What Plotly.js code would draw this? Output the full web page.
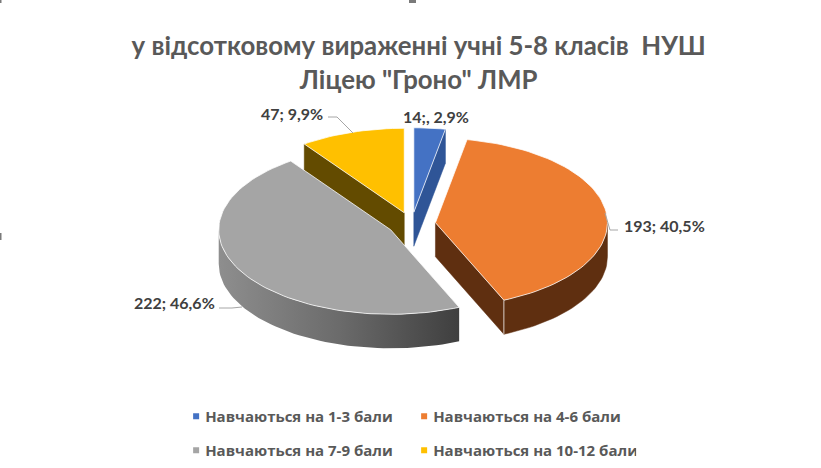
<!DOCTYPE html>
<html><head><meta charset="utf-8">
<script src="https://cdn.plot.ly/plotly-3.0.1.min.js"></script>
<style>html,body{margin:0;padding:0;background:#fff}#chart{width:821px;height:468px}</style>
</head><body><div id="chart"></div>
<script>
const categories = ["Навчаються на 1-3 бали","Навчаються на 4-6 бали","Навчаються на 7-9 бали","Навчаються на 10-12 бали"];
const studentCounts = [14,193,222,47];
const dataLabels = ["14;, 2,9%","193; 40,5%","222; 46,6%","47; 9,9%"];
const topColors = ["#4472C4","#ED7D31","#A5A5A5","#FFC000"];
const sideColors = ["#2F5597","#5F2F10","#6e6e6e","#634B00"];
const labelPos = [[435.5,116],[664,225],[174,302],[292,113]];
const leaders = [[],[[605,213],[610,230],[618,230]],[[242,307],[232,308],[219,308]],[[353,133],[337,117],[328,117]]];
const cropMarks = [[0,233,1.5,240],[409,0,416,3],[0,0,1.5,3]];

const FONT = "Lato, 'Open Sans', sans-serif";
const LEGEND_FONT = "'Open Sans', Lato, sans-serif";
const cx=411.6, cy=224, rx=172, ry=84.5, depth=34, explode=24;
const total = studentCounts.reduce((a,b)=>a+b,0);
const rad = d=>d*Math.PI/180;
const pt = (c,d)=>[c[0]+rx*Math.sin(rad(d)), c[1]-ry*Math.cos(rad(d))];
function arc(c,a,b){const r=[];const n=Math.max(2,Math.ceil(Math.abs(b-a)/2));for(let i=0;i<=n;i++)r.push(pt(c,a+(b-a)*i/n));return r;}
function poly(p,o){return Object.assign({x:p.map(q=>q[0]),y:p.map(q=>q[1]),mode:'lines',fill:'toself',showlegend:false,hoverinfo:'skip'},o);}
let start=0;
const slices = studentCounts.map(v=>{
  const sweep=v/total*360, a=start, b=start+sweep; start=b;
  const m=(a+b)/2;
  const c=[cx+explode*Math.sin(rad(m)), cy-explode*Math.cos(rad(m))*ry/rx];
  return {a,b,c};
});
const down=p=>[p[0],p[1]+depth];
const edge={width:1,color:'rgba(255,255,255,0.75)'};
function cutFace(s,ang,col){const e=pt(s.c,ang);return poly([s.c,e,down(e),down(s.c),s.c],{fillcolor:col,line:{width:0.5,color:col}});}
function topFace(s,i){const p=[s.c].concat(arc(s.c,s.a,s.b));p.push(s.c);return poly(p,{fillcolor:topColors[i],line:edge});}
function rim(s,a,b,o){const t=arc(s.c,a,b);const p=t.concat(t.slice().reverse().map(down));p.push(t[0]);return poly(p,o);}
const [sB,sO,sG,sY]=slices;
const traces=[
  cutFace(sY,sY.a,sideColors[3]),
  cutFace(sB,sB.b,sideColors[0]),
  rim(sG,sG.a,270,{fillcolor:'#666',line:{width:0},fillgradient:{type:'horizontal',colorscale:[[0,'#8e8e8e'],[0.5,'#6b6b6b'],[1,'#3f3f3f']]}}),
  topFace(sG,2),
  topFace(sY,3),
  topFace(sB,0),
  cutFace(sO,sO.b,sideColors[1]),
  rim(sO,90,sO.b,{fillcolor:sideColors[1],line:{width:0.5,color:sideColors[1]}}),
  topFace(sO,1)
];
const oe=pt(sO.c,sO.b);
traces.push({x:[oe[0],oe[0]],y:[oe[1],oe[1]+depth],mode:'lines',line:edge,showlegend:false,hoverinfo:'skip'});
leaders.forEach(l=>{if(l.length)traces.push({x:l.map(q=>q[0]),y:l.map(q=>q[1]),mode:'lines',line:{width:1,color:'#a6a6a6'},showlegend:false,hoverinfo:'skip'});});
categories.forEach((n,i)=>traces.push({x:[null],y:[null],name:n,mode:'markers',type:'scatter',
  marker:{symbol:'square',size:6,color:topColors[i]},legend:i<2?'legend':'legend2',hoverinfo:'skip'}));

const leg=y=>({orientation:'h',x:0.2194,xanchor:'left',y:y,yanchor:'middle',entrywidth:198,entrywidthmode:'pixels',indentation:-15,
  font:{family:LEGEND_FONT,size:15,color:'#595959',weight:700},bgcolor:'rgba(0,0,0,0)',traceorder:'normal'});
const layout={width:821,height:468,margin:{l:0,r:0,t:0,b:0},paper_bgcolor:'#fff',plot_bgcolor:'#fff',showlegend:true,
  title:{text:'у відсотковому вираженні учні 5-8 класів  НУШ<br>Ліцею "Гроно" ЛМР',x:0.51,xanchor:'center',y:0.882,yanchor:'top',
    font:{family:FONT,size:25.8,color:'#595959',weight:700}},
  xaxis:{range:[0,821],visible:false,fixedrange:true},
  yaxis:{range:[468,0],visible:false,fixedrange:true},
  legend:leg(1-416.5/468),legend2:leg(1-450.5/468),
  shapes:cropMarks.map(m=>({type:'rect',xref:'x',yref:'y',x0:m[0],y0:m[1],x1:m[2],y1:m[3],fillcolor:'#7a7a7a',line:{width:0}})),
  annotations:dataLabels.map((t,i)=>({x:labelPos[i][0],y:labelPos[i][1],text:t,showarrow:false,xanchor:'center',yanchor:'middle',
    font:{family:FONT,size:16,color:'#404040',weight:700}}))
};
Plotly.newPlot('chart',traces,layout,{displayModeBar:false,staticPlot:true}).then(()=>{
  document.querySelectorAll('.legendsymbols').forEach(g=>g.setAttribute('transform','translate(11,0)'));
});
</script></body></html>
